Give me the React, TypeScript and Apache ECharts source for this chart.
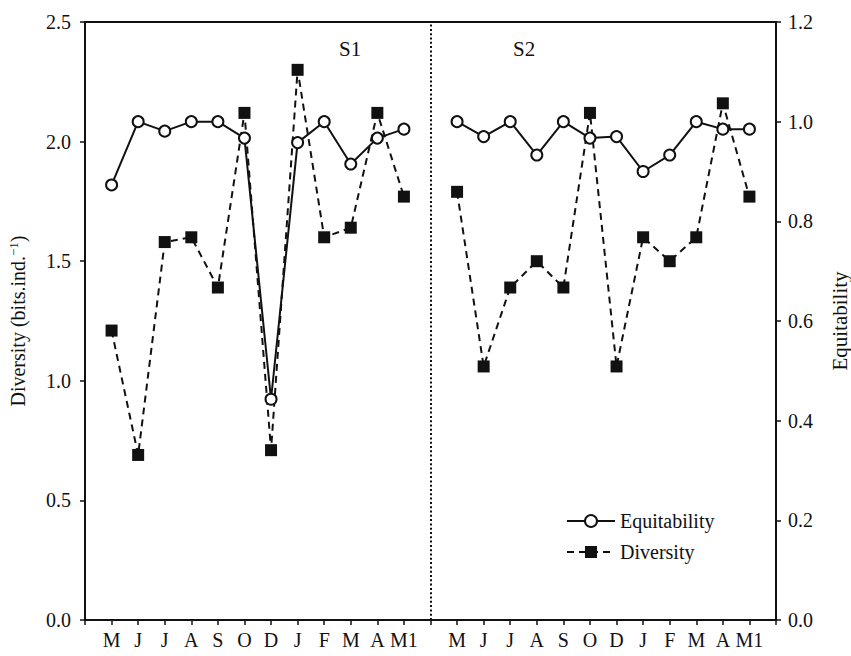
import React, { useEffect, useRef } from "react";
import * as echarts from "echarts";

// Sampling months for each station (May → May of the following year)
const months = ["M", "J", "J", "A", "S", "O", "D", "J", "F", "M", "A", "M1"];

// Shannon diversity (bits.ind.-1)
const s1Diversity = [1.21, 0.69, 1.58, 1.6, 1.39, 2.12, 0.71, 2.3, 1.6, 1.64, 2.12, 1.77];
const s2Diversity = [1.79, 1.06, 1.39, 1.5, 1.39, 2.12, 1.06, 1.6, 1.5, 1.6, 2.16, 1.77];

// Pielou equitability
const s1Equitability = [0.873, 1.0, 0.981, 1.0, 1.0, 0.967, 0.443, 0.958, 1.0, 0.915, 0.967, 0.985];
const s2Equitability = [1.0, 0.97, 1.0, 0.933, 1.0, 0.967, 0.97, 0.9, 0.933, 1.0, 0.985, 0.985];

const diversityTicks = [0, 0.5, 1.0, 1.5, 2.0, 2.5];
const equitabilityTicks = [0, 0.2, 0.4, 0.6, 0.8, 1.0, 1.2];

// Axis slots: an empty slot at each edge and one between the two stations
const slotLabels = ["", ...months, "", ...months, ""];
const slotKeys = slotLabels.map((_, i) => `slot${i}`);
const separatorSlot = months.length + 1;

const withGaps = (a: number[], b: number[]) => [null, ...a, null, ...b, null];

const FONT = "Liberation Serif";
const INK = "#111";

// rich styles for the left axis name (superscript unit exponent)
const nameRich = {
  n: { fontFamily: FONT, fontSize: 20, color: INK },
  sup: { fontFamily: FONT, fontSize: 13, color: INK, verticalAlign: "top", padding: [0, 0, 9, 0] },
};

export default function App() {
  const ref = useRef<HTMLDivElement>(null);

  useEffect(() => {
    if (!ref.current) return;
    const chart = echarts.init(ref.current, undefined, { renderer: "svg" });

    chart.setOption({
      animation: false,
      backgroundColor: "#fff",
      textStyle: { fontFamily: FONT, color: INK },
      grid: {
        left: 85,
        right: 75,
        top: 22,
        bottom: 36,
        outerBoundsMode: "none",
        show: true,
        borderColor: INK,
        borderWidth: 2,
        backgroundColor: "transparent",
      },
      legend: {
        orient: "vertical",
        left: 561,
        top: 506,
        itemWidth: 48,
        itemHeight: 15,
        itemGap: 11,
        data: ["Equitability", "Diversity"],
        textStyle: { fontFamily: FONT, fontSize: 20, color: INK },
      },
      xAxis: {
        type: "category",
        boundaryGap: false,
        data: slotKeys,
        axisLine: { lineStyle: { color: INK, width: 2 } },
        axisTick: { show: true, interval: 0, length: 5, lineStyle: { color: INK, width: 1.5 } },
        axisLabel: {
          interval: 0,
          margin: 10,
          fontFamily: FONT,
          fontSize: 20,
          color: INK,
          formatter: (_: string, i: number) => slotLabels[i],
        },
        splitLine: { show: false },
      },
      yAxis: [
        {
          type: "value",
          min: diversityTicks[0],
          max: diversityTicks[diversityTicks.length - 1],
          interval: 0.5,
          name: "{n|Diversity (bits.ind.}{sup|\u22121}{n|)}",
          nameLocation: "middle",
          nameGap: 56,
          nameRotate: 90,
          nameTextStyle: { fontFamily: FONT, fontSize: 20, color: INK, rich: nameRich },
          axisLine: { show: true, lineStyle: { color: INK, width: 2 } },
          axisTick: { show: true, length: 5, lineStyle: { color: INK, width: 1.5 } },
          axisLabel: {
            margin: 14,
            fontFamily: FONT,
            fontSize: 20,
            color: INK,
            formatter: (v: number) => v.toFixed(1),
          },
          splitLine: { show: false },
        },
        {
          type: "value",
          position: "right",
          min: equitabilityTicks[0],
          max: equitabilityTicks[equitabilityTicks.length - 1],
          interval: 0.2,
          name: "Equitability",
          nameLocation: "middle",
          nameGap: 53,
          nameRotate: 90,
          nameTextStyle: { fontFamily: FONT, fontSize: 21, color: INK },
          axisLine: { show: true, lineStyle: { color: INK, width: 2 } },
          axisTick: { show: true, length: 5, lineStyle: { color: INK, width: 1.5 } },
          axisLabel: {
            margin: 12,
            fontFamily: FONT,
            fontSize: 20,
            color: INK,
            formatter: (v: number) => v.toFixed(1),
          },
          splitLine: { show: false },
        },
      ],
      graphic: [
        {
          type: "text",
          left: 339,
          top: 38,
          style: { text: "S1", fontFamily: FONT, fontSize: 21, fill: INK },
        },
        {
          type: "text",
          left: 513,
          top: 38,
          style: { text: "S2", fontFamily: FONT, fontSize: 21, fill: INK },
        },
      ],
      series: [
        {
          name: "Diversity",
          type: "line",
          yAxisIndex: 0,
          data: withGaps(s1Diversity, s2Diversity),
          connectNulls: false,
          symbol: "rect",
          symbolSize: 12,
          itemStyle: { color: INK, borderColor: INK, borderWidth: 0 },
          lineStyle: { color: INK, width: 2, type: [7, 5] },
          z: 2,
          markLine: {
            silent: true,
            symbol: "none",
            label: { show: false },
            lineStyle: { color: INK, width: 2, type: [2, 2.3] },
            data: [{ xAxis: slotKeys[separatorSlot] }],
          },
        },
        {
          name: "Equitability",
          type: "line",
          yAxisIndex: 1,
          data: withGaps(s1Equitability, s2Equitability),
          connectNulls: false,
          symbol: "circle",
          symbolSize: 11,
          showAllSymbol: true,
          itemStyle: { color: "#fff", borderColor: INK, borderWidth: 2 },
          lineStyle: { color: INK, width: 2, type: "solid" },
          z: 3,
        },
      ],
    });

    return () => chart.dispose();
  }, []);

  return (
    <div
      ref={ref}
      style={{ position: "fixed", left: 0, top: 0, width: 851, height: 656, background: "#fff" }}
    />
  );
}
